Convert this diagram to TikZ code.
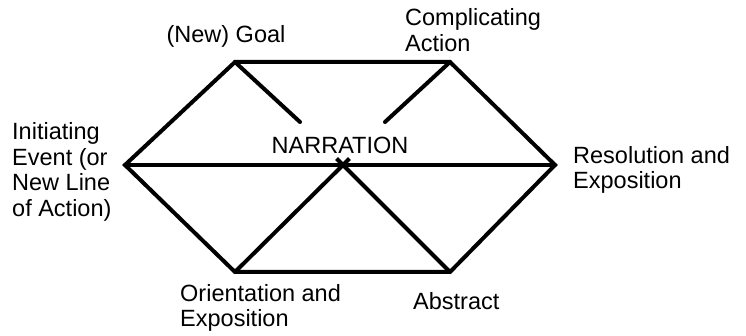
\documentclass[tikz,border=0pt]{standalone}
\usepackage{fontspec}
\setmainfont{Liberation Sans}
\usetikzlibrary{positioning,calc}

\begin{document}
\begin{tikzpicture}[x=1pt, y=-1pt]
    \tikzstyle{label} = [align=left, inner sep=0pt, font=\fontsize{23.5}{25.5}\selectfont]
    \tikzstyle{edge} = [line width=4pt, line cap=round, line join=miter]

    \useasboundingbox (0,0) rectangle (746,336);

    % Ecken
    \coordinate (goal) at (235,62);
    \coordinate (compl) at (450,62);
    \coordinate (resol) at (555,165);
    \coordinate (abstr) at (450,272);
    \coordinate (orient) at (235,272);
    \coordinate (init) at (125,165);
    \coordinate (mid) at (343,165);
    \coordinate (goalend) at (300,122);
    \coordinate (complend) at (385,122);

    % Beschriftungen
    \node[label, anchor=west] (tinit) at (12,172) {Initiating\\Event (or\\New Line\\of Action)};
    \node[label] (tgoal) at (226,36) {(New) Goal};
    \node[label, anchor=west] (tcompl) at (405,30) {Complicating\\Action};
    \node[label, anchor=west] (tresol) at (573,170) {Resolution and\\Exposition};
    \node[label, anchor=west] (torient) at (180,308) {Orientation and\\Exposition};
    \node[label, anchor=west] (tabstr) at (413,301) {Abstract};
    \node[label] (tnarr) at (340,145) {NARRATION};

    % Linien
    \draw[edge] (init) -- (goal) -- (compl) -- (resol) -- (abstr) -- (orient) -- cycle;
    \draw[edge] (init) -- (resol);
    \draw[edge] (goal) -- (goalend);
    \draw[edge] (compl) -- (complend);
    \draw[edge, line cap=butt] ($(mid)!-0.06!(orient)$) -- (orient);
    \draw[edge, line cap=butt] ($(mid)!-0.06!(abstr)$) -- (abstr);
\end{tikzpicture}
\end{document}
